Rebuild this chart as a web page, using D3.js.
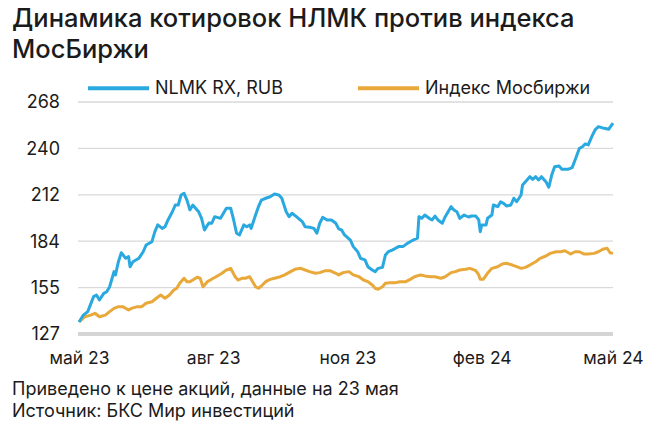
<!DOCTYPE html>
<html><head><meta charset="utf-8">
<script src="https://cdn.jsdelivr.net/npm/d3@7"></script>
<style>body{margin:0;background:#fff}svg{display:block}</style>
</head><body>
<svg id="chart" width="660" height="439"></svg>
<script>
// Day offsets are counted from startDate
const startDate = "2023-05-23";
const endDate = "2024-05-23";

const nlmkDays = [0,3,6,10,12,14,17,19,21,24,25,27,29,32,34,35,37,41,44,46,50,52,54,57,59,61,64,66,68,70,72,74,76,78,82,84,86,89,91,93,97,99,101,104,106,108,110,113,115,117,118,121,123,125,128,131,134,137,139,142,144,146,149,153,155,158,161,163,165,167,170,173,176,178,180,182,186,188,191,193,196,198,201,203,205,208,210,212,215,217,219,222,225,227,229,232,233,235,237,240,242,244,246,249,251,255,257,259,261,264,267,269,272,274,275,276,279,280,283,284,287,289,291,293,296,298,300,303,304,306,309,311,313,315,317,320,322,324,326,329,331,335,338,340,343,345,347,349,352,354,356,360,363,366];
const nlmkValues = [134.0,138.2,140.3,149.4,150.4,147.4,151.4,152.4,155.4,164.6,162.6,170.6,176.1,172.7,173.7,167.6,170.6,172.7,176.7,180.8,182.8,188.9,193.0,190.9,191.9,196.0,201.0,205.1,205.1,211.2,212.2,208.1,202.1,205.1,201.0,197.0,189.9,194.2,194.0,198.0,197.0,200.1,203.1,203.1,196.0,187.9,186.9,193.0,191.9,193.0,190.9,199.0,204.1,208.1,209.2,210.1,211.8,211.2,209.2,201.0,198.0,200.1,198.0,195.0,191.9,191.6,190.9,187.9,194.0,197.6,196.0,196.0,194.0,190.6,189.9,186.9,183.8,179.8,176.7,172.7,171.7,167.6,165.6,164.6,166.6,167.2,174.7,176.7,177.8,178.8,179.8,179.8,181.8,182.8,183.8,184.9,198.0,197.0,199.0,197.0,196.0,198.4,196.0,194.0,198.0,204.1,202.1,201.0,197.0,199.0,197.8,198.4,198.4,196.0,188.9,193.0,193.0,197.0,199.0,205.1,204.1,207.1,206.1,204.5,205.1,209.2,207.1,211.2,217.3,219.3,222.3,220.7,222.3,220.3,222.3,219.3,215.9,223.3,228.4,228.8,226.8,226.8,227.8,232.5,239.6,240.5,242.2,241.6,247.7,251.1,252.7,251.7,251.1,254.8];

const imoexDays = [0,4,8,11,14,18,21,24,27,30,34,36,40,43,46,50,53,56,59,62,65,67,69,72,74,76,78,81,83,85,88,90,92,94,98,101,104,107,109,112,114,117,119,121,123,125,128,131,134,138,141,145,148,152,155,158,162,165,169,172,176,178,181,185,188,192,195,198,201,203,205,208,210,213,217,220,224,227,230,234,237,241,244,248,251,255,258,261,265,268,272,274,275,277,280,283,287,290,293,297,300,303,306,309,313,316,320,323,327,330,333,337,340,343,346,349,353,356,359,362,364,366];
const imoexValues = [134.0,137.2,138.2,139.3,137.2,138.2,140.3,142.3,143.3,143.3,141.3,142.3,143.3,143.3,145.4,146.3,148.4,150.4,148.4,150.4,153.4,154.5,157.5,160.6,158.5,158.5,159.5,161.2,160.6,155.4,158.5,159.5,160.6,161.5,163.6,165.6,166.6,161.5,159.5,160.6,160.6,161.5,158.5,155.4,154.5,155.9,158.5,159.9,160.6,161.5,162.6,164.6,166.0,166.6,165.6,164.6,163.6,164.0,165.2,165.2,163.6,162.6,164.0,164.6,162.6,161.5,159.5,158.5,156.5,154.5,153.9,155.4,157.5,157.9,157.9,158.5,158.5,159.9,161.5,162.6,162.0,161.5,161.5,160.6,161.5,164.0,164.6,165.6,166.0,166.6,165.2,162.6,159.9,159.9,163.6,166.6,167.6,169.2,169.7,168.6,167.6,166.6,167.2,168.6,170.6,172.7,174.1,175.7,176.7,176.7,177.3,175.3,176.7,176.7,175.3,175.3,175.7,176.7,178.2,178.8,176.1,175.7];

const yTickValues = [127, 155.2, 183.4, 211.6, 239.8, 268];
const yTickLabels = ["127", "155", "184", "212", "240", "268"];
const xTickDates = ["2023-05-23", "2023-08-23", "2023-11-23", "2024-02-23", "2024-05-23"];
const xTickLabels = ["май 23", "авг 23", "ноя 23", "фев 24", "май 24"];

const seriesNames = ["NLMK RX, RUB", "Индекс Мосбиржи"];
const titleLines = ["Динамика котировок НЛМК против индекса", "МосБиржи"];
const noteLines = ["Приведено к цене акций, данные на 23 мая", "Источник: БКС Мир инвестиций"];

const BLUE = "#29a9e0", ORANGE = "#e9a83a", TEXT = "#1b1b1b", FONT = "Inter, Roboto, sans-serif";

const svg = d3.select("#chart");
const parse = d3.utcParse("%Y-%m-%d");
const t0 = parse(startDate);
const x = d3.scaleUtc().domain([t0, parse(endDate)]).range([79, 613]);
const y = d3.scaleLinear().domain([127, 268]).range([333.5, 101.5]);

// Title
svg.append("g").selectAll("text").data(titleLines).join("text")
  .attr("x", 12).attr("y", (d, i) => 27 + i * 30.5)
  .attr("font-family", FONT).attr("font-size", 25.5).attr("font-weight", 500)
  .attr("fill", TEXT).text(d => d);

// Y axis with gridlines
const yAxis = d3.axisLeft(y).tickValues(yTickValues).tickSize(-(613 - 78)).tickPadding(18)
  .tickFormat((d, i) => yTickLabels[i]);
const gy = svg.append("g").attr("transform", "translate(78,0)").call(yAxis);
gy.select(".domain").remove();
gy.selectAll(".tick line").attr("stroke", "#d9d9d9").attr("stroke-width", 1.3)
  .filter(d => d === 127).attr("stroke", "#d5d5d5").attr("stroke-width", 4);
gy.selectAll(".tick text").attr("font-family", FONT).attr("font-size", 18)
  .attr("fill", TEXT).attr("dy", "0.36em");

// X axis
const xAxis = d3.axisBottom(x).tickValues(xTickDates.map(parse)).tickSize(0)
  .tickFormat((d, i) => xTickLabels[i]);
const gx = svg.append("g").attr("transform", "translate(0,333.5)").call(xAxis);
gx.select(".domain").remove();
gx.selectAll(".tick text").attr("font-family", FONT).attr("font-size", 17.5)
  .attr("fill", TEXT).attr("dy", 0).attr("y", 30.8);

// Lines
const line = d3.line().x(d => x(d3.utcDay.offset(t0, d[0]))).y(d => y(d[1]));
const imoex = imoexDays.map((d, i) => [d, imoexValues[i]]);
const nlmk = nlmkDays.map((d, i) => [d, nlmkValues[i]]);
svg.append("path").datum(imoex).attr("d", line).attr("fill", "none")
  .attr("stroke", ORANGE).attr("stroke-width", 3).attr("stroke-linejoin", "round");
svg.append("path").datum(nlmk).attr("d", line).attr("fill", "none")
  .attr("stroke", BLUE).attr("stroke-width", 3).attr("stroke-linejoin", "round");

// Legend
const legendX = [88, 358];
const lg = svg.append("g").selectAll("g").data(seriesNames).join("g")
  .attr("transform", (d, i) => `translate(${legendX[i]},88.3)`);
lg.append("line").attr("x1", 0).attr("x2", 61).attr("stroke", (d, i) => [BLUE, ORANGE][i])
  .attr("stroke-width", 4);
lg.append("text").attr("x", 67).attr("y", 6).attr("font-family", FONT).attr("font-size", 18)
  .attr("fill", TEXT).text(d => d);

// Notes
svg.append("g").selectAll("text").data(noteLines).join("text")
  .attr("x", 12).attr("y", (d, i) => 394.5 + i * 22.4)
  .attr("font-family", FONT).attr("font-size", 18).attr("fill", TEXT).text(d => d);
</script>
</body></html>
